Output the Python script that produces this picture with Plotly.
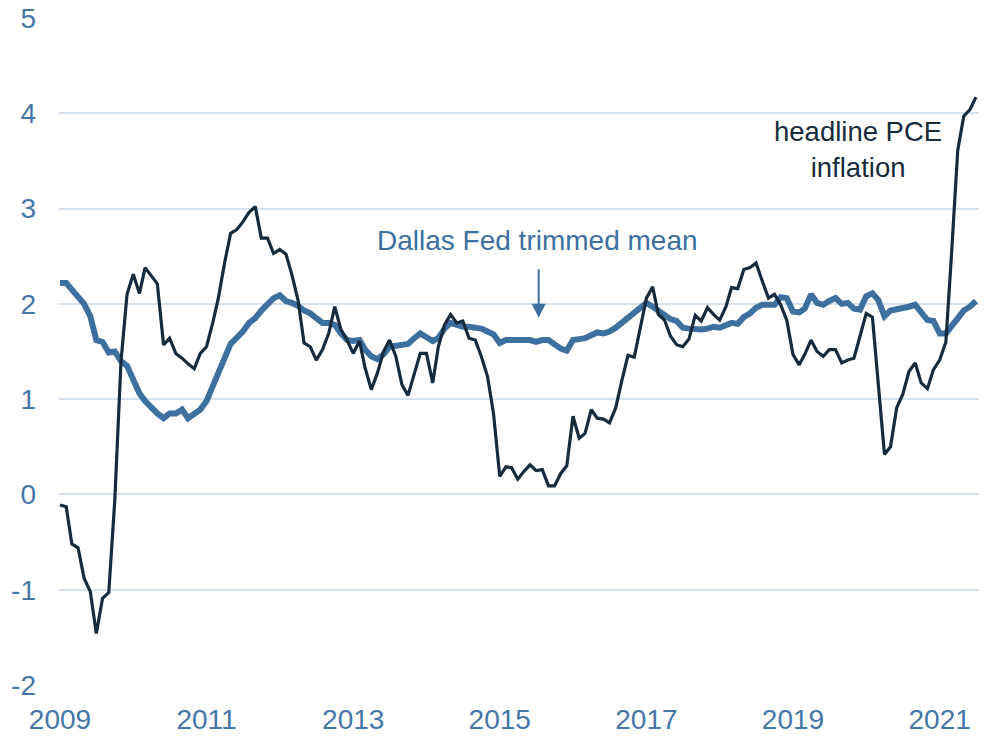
import pandas as pd
import plotly.graph_objects as go

dates = pd.date_range("2009-01-01", "2021-07-01", freq="MS")

headline_pce = [
    -0.11, -0.13, -0.52, -0.56, -0.88, -1.02, -1.46, -1.09, -1.03, -0.06, 1.40, 2.10,
    2.31, 2.11, 2.38, 2.29, 2.21, 1.57, 1.64, 1.48, 1.43, 1.37, 1.32, 1.48,
    1.55, 1.80, 2.06, 2.43, 2.74, 2.78, 2.86, 2.96, 3.02, 2.69, 2.69, 2.53,
    2.57, 2.52, 2.31, 2.04, 1.59, 1.55, 1.41, 1.52, 1.69, 1.97, 1.73, 1.62,
    1.48, 1.61, 1.33, 1.10, 1.27, 1.50, 1.62, 1.45, 1.15, 1.04, 1.26, 1.48,
    1.48, 1.17, 1.55, 1.78, 1.89, 1.80, 1.82, 1.64, 1.62, 1.45, 1.24, 0.85,
    0.19, 0.29, 0.28, 0.16, 0.24, 0.31, 0.25, 0.26, 0.09, 0.09, 0.22, 0.30,
    0.82, 0.59, 0.64, 0.89, 0.80, 0.79, 0.75, 0.91, 1.20, 1.46, 1.44, 1.76,
    2.06, 2.18, 1.89, 1.83, 1.66, 1.57, 1.55, 1.63, 1.88, 1.82, 1.96, 1.89,
    1.83, 1.97, 2.17, 2.16, 2.36, 2.38, 2.43, 2.24, 2.06, 2.10, 1.99, 1.83,
    1.47, 1.36, 1.47, 1.62, 1.50, 1.45, 1.52, 1.52, 1.38, 1.41, 1.43, 1.66,
    1.90, 1.86, 1.20, 0.42, 0.50, 0.91, 1.05, 1.29, 1.38, 1.17, 1.11, 1.31,
    1.41, 1.60, 2.52, 3.61, 3.97, 4.04, 4.17,
]

trimmed_mean = [
    2.22, 2.22, 2.15, 2.08, 2.00, 1.87, 1.62, 1.60, 1.49, 1.50, 1.40, 1.35,
    1.19, 1.06, 0.98, 0.91, 0.85, 0.80, 0.85, 0.85, 0.89, 0.80, 0.84, 0.89,
    0.98, 1.15, 1.27, 1.43, 1.58, 1.64, 1.71, 1.80, 1.85, 1.93, 2.00, 2.06,
    2.09, 2.03, 2.01, 1.98, 1.93, 1.90, 1.85, 1.80, 1.80, 1.78, 1.69, 1.62,
    1.61, 1.62, 1.52, 1.45, 1.42, 1.47, 1.55, 1.56, 1.56, 1.58, 1.64, 1.69,
    1.65, 1.61, 1.64, 1.74, 1.80, 1.78, 1.76, 1.76, 1.75, 1.74, 1.71, 1.68,
    1.59, 1.62, 1.62, 1.62, 1.61, 1.62, 1.60, 1.62, 1.62, 1.57, 1.53, 1.51,
    1.62, 1.63, 1.64, 1.67, 1.70, 1.69, 1.71, 1.75, 1.80, 1.86, 1.90, 1.96,
    2.01, 1.97, 1.93, 1.90, 1.84, 1.82, 1.75, 1.74, 1.73, 1.73, 1.74, 1.76,
    1.75, 1.77, 1.80, 1.79, 1.86, 1.90, 1.96, 1.99, 1.99, 1.99, 2.07, 2.06,
    1.92, 1.91, 1.95, 2.10, 2.01, 1.99, 2.03, 2.06, 2.00, 2.01, 1.95, 1.94,
    2.08, 2.11, 2.04, 1.87, 1.93, 1.94, 1.95, 1.97, 1.99, 1.90, 1.83, 1.82,
    1.69, 1.69, 1.77, 1.85, 1.93, 1.97, 2.03,
]

y_ticks = [-2, -1, 0, 1, 2, 3, 4, 5]
y_tick_labels = ["-2", "-1", "0", "1", "2", "3", "4", "5"]

DARK = "#172b3d"
BLUE = "#3d6f9f"
TICK = "#4677a6"
GRID = "#d5e2ee"
FONT = "Liberation Sans, Arial, sans-serif"

fig = go.Figure()
fig.add_trace(go.Scatter(x=dates, y=trimmed_mean, mode="lines",
                         line=dict(color=BLUE, width=6), name="Dallas Fed trimmed mean"))
fig.add_trace(go.Scatter(x=dates, y=headline_pce, mode="lines",
                         line=dict(color=DARK, width=3.2), name="headline PCE inflation"))

fig.add_annotation(x="2015-07-08", y=2.66, text="Dallas Fed trimmed mean", showarrow=False,
                   font=dict(family=FONT, size=28, color=BLUE), xanchor="center", yanchor="middle")
fig.add_annotation(x="2015-07-14", y=1.854, text="", showarrow=True, ax=0, ay=-50,
                   arrowhead=2, arrowsize=1.4, arrowwidth=2, arrowcolor=BLUE)
fig.add_annotation(x="2019-11-20", y=3.62, text="headline PCE<br>inflation", showarrow=False,
                   align="center", font=dict(family=FONT, size=27.5, color=DARK),
                   xanchor="center", yanchor="middle")

fig.update_layout(
    width=985, height=736,
    margin=dict(l=59, r=6, t=18, b=51),
    paper_bgcolor="white", plot_bgcolor="white",
    showlegend=False,
    font=dict(family=FONT, size=28, color=TICK),
    xaxis=dict(
        range=["2008-12-27", "2021-07-16"],
        tickformat="%Y", dtick="M24", tick0="2009-01-01",
        showgrid=False, zeroline=False, showline=False,
        tickfont=dict(family=FONT, size=28, color=TICK),
        ticks="", ticklabelstandoff=15, automargin=False,
    ),
    yaxis=dict(
        range=[-2, 5], tickvals=y_ticks, ticktext=y_tick_labels,
        showgrid=True, gridcolor=GRID, gridwidth=2,
        zeroline=False, showline=False,
        tickfont=dict(family=FONT, size=28, color=TICK),
        ticks="", ticklabelstandoff=22, automargin=False,
    ),
)

fig.write_html(
    "out.html",
    config={"displayModeBar": False},
    post_script="document.body.style.margin='0';document.body.style.padding='0';document.body.style.overflow='hidden';",
)
